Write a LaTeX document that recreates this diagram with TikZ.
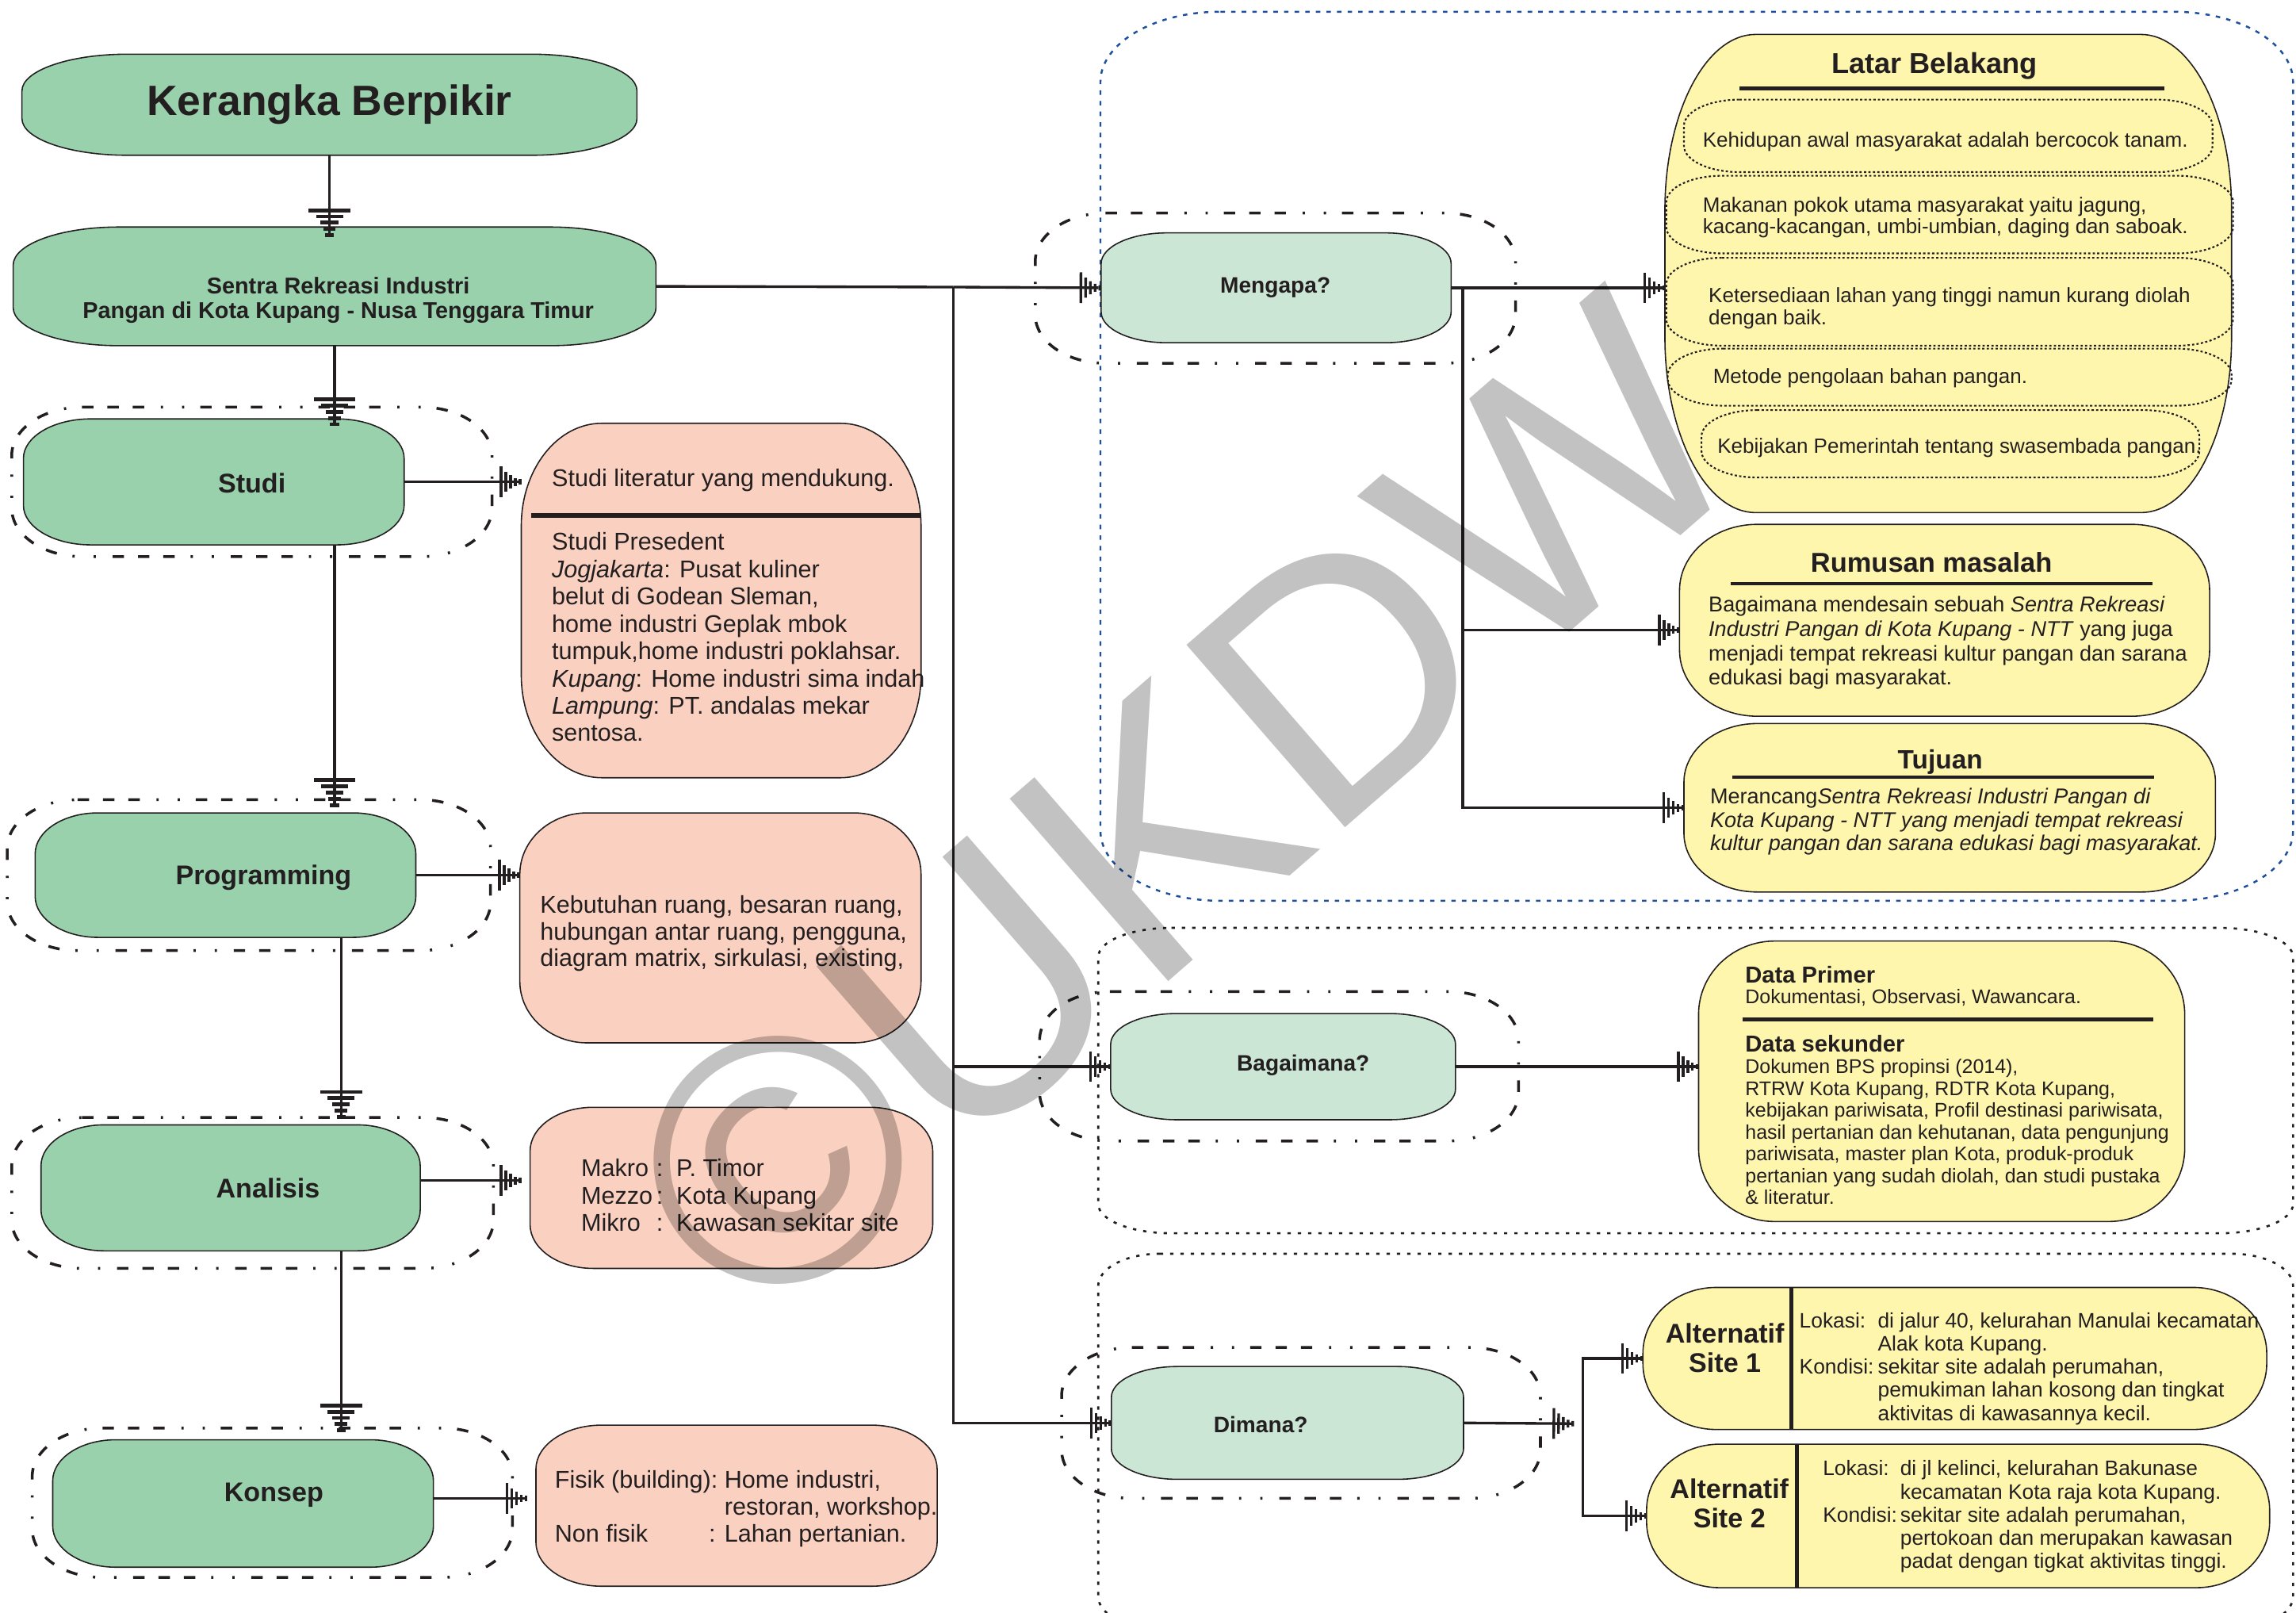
\documentclass[tikz,border=0pt]{standalone}
\usepackage{fontspec}
\setmainfont{Liberation Sans}
\usetikzlibrary{arrows.meta,calc,fit}

\definecolor{inkblack}{HTML}{231F20}
\definecolor{sage}{HTML}{99D1AC}
\definecolor{mint}{HTML}{CCE6D6}
\definecolor{peach}{HTML}{FAD1C0}
\definecolor{lemon}{HTML}{FFF6AD}
\definecolor{dotblue}{HTML}{1D4F9C}

\newcommand\pxu{0.018469cm}
\newcommand\fs[2]{\fontsize{#1}{#2}\selectfont}
% box with elliptic corners round a fitted node
\newcommand\capsule[4]{%
  \path[#4] ($(#1.north west)+(#2,0)$) -- ($(#1.north east)-(#2,0)$)
    arc[start angle=90,end angle=0,x radius=#2*\pxu,y radius=#3*\pxu]
    -- ($(#1.south east)+(0,#3)$)
    arc[start angle=0,end angle=-90,x radius=#2*\pxu,y radius=#3*\pxu]
    -- ($(#1.south west)+(#2,0)$)
    arc[start angle=270,end angle=180,x radius=#2*\pxu,y radius=#3*\pxu]
    -- ($(#1.north west)-(0,#3)$)
    arc[start angle=180,end angle=90,x radius=#2*\pxu,y radius=#3*\pxu]
    -- cycle;}

\tikzset{
  frame/.style={inner sep=0pt,outer sep=0pt},
  boxline/.style={draw=inkblack,line width=0.45pt},
  ddash/.style={draw=inkblack,line width=1pt,
    dash pattern=on 4.1pt off 5pt on 4.1pt off 5pt on 4.1pt off 6pt on 0.8pt off 6.8pt on 0.8pt off 5.7pt},
  fdots/.style={draw=inkblack,line width=0.75pt,dash pattern=on 1.2pt off 2.5pt},
  bdots/.style={draw=dotblue,line width=0.7pt,dash pattern=on 1.6pt off 2.2pt},
  idots/.style={draw=inkblack,line width=0.6pt,dash pattern=on 0.8pt off 0.8pt},
  uline/.style={line width=1.4pt},
  head/.style={font=\bfseries\fs{9.7}{10.5},inner sep=0pt},
  ask/.style={font=\bfseries\fs{8}{9},inner sep=0pt},
  txt/.style={align=left,inner sep=0pt,anchor=west},
  ptxt/.style={txt,font=\fs{8.7}{9.8}},
  ytxt/.style={txt,font=\fs{7.7}{8.7}},
  lbtxt/.style={txt,font=\fs{7.4}{7.9}},
  vgnd/.style={-{Rectangle[length=1.4pt,width=15pt,line width=0pt,sep=0.85pt]
    Rectangle[length=1.4pt,width=9.7pt,line width=0pt,sep=0.85pt]
    Rectangle[length=1.4pt,width=6.3pt,line width=0pt,sep=0.85pt]
    Rectangle[length=1.4pt,width=4.5pt,line width=0pt,sep=0.85pt]
    Rectangle[length=1.4pt,width=3.2pt,line width=0pt]}},
  hgnd/.style={-{Rectangle[length=0.95pt,width=11pt,line width=0pt,sep=0.75pt]
    Rectangle[length=0.95pt,width=7.2pt,line width=0pt,sep=0.75pt]
    Rectangle[length=0.95pt,width=4.7pt,line width=0pt,sep=0.75pt]
    Rectangle[length=0.95pt,width=2.8pt,line width=0pt,sep=0.75pt]
    Rectangle[length=0.95pt,width=1.9pt,line width=0pt]}},
}

\begin{document}
\begin{tikzpicture}[x=\pxu,y=\pxu,color=inkblack,line width=0.95pt]
\useasboundingbox (0,0) rectangle (1568,-1101);

% zones
\node[frame,fit={(751.5,-8)(1566,-615)}] (whyzone) {};
\node[frame,fit={(750,-633.5)(1566,-842)}] (howzone) {};
\node[frame,fit={(750,-856)(1566,-1112)}] (wherezone) {};
\node[frame,fit={(8,-278)(336,-380)}] (studi-c) {};
\node[frame,fit={(5,-546)(335,-649)}] (prog-c) {};
\node[frame,fit={(8,-763)(337,-866)}] (anal-c) {};
\node[frame,fit={(22,-975)(350,-1077)}] (konsep-c) {};
\node[frame,fit={(707,-145.5)(1035,-248)}] (mengapa-c) {};
\node[frame,fit={(710,-677)(1037,-779)}] (bagaimana-c) {};
\node[frame,fit={(725,-920)(1052,-1023)}] (dimana-c) {};

% boxes
\node[frame,fit={(15,-37)(435,-106)}] (kerangka) {};
\node[frame,fit={(9,-155)(448,-236)}] (sentra) {};
\node[frame,fit={(16,-286)(276,-372)}] (studi) {};
\node[frame,fit={(24,-555)(284,-640)}] (prog) {};
\node[frame,fit={(28,-768)(287,-854)}] (anal) {};
\node[frame,fit={(36,-983)(296,-1070)}] (konsep) {};
\node[frame,fit={(356,-289)(629,-531)}] (literatur) {};
\node[frame,fit={(355,-555)(629,-712)}] (kebutuhan) {};
\node[frame,fit={(362,-756)(637,-866)}] (skala) {};
\node[frame,fit={(366,-973)(640,-1083)}] (fisik) {};
\node[frame,fit={(752,-159)(991,-234)}] (mengapa) {};
\node[frame,fit={(758.5,-692)(994,-764.5)}] (bagaimana) {};
\node[frame,fit={(759,-933)(999.5,-1010)}] (dimana) {};
\node[frame,fit={(1137,-23.5)(1524,-350)}] (latar) {};
\node[frame,fit={(1150,-68)(1511,-117.5)}] (lb1) {};
\node[frame,fit={(1138,-120)(1525,-173)}] (lb2) {};
\node[frame,fit={(1138,-176)(1525,-236)}] (lb3) {};
\node[frame,fit={(1139,-238)(1524,-277)}] (lb4) {};
\node[frame,fit={(1162,-280)(1502,-326)}] (lb5) {};
\node[frame,fit={(1147,-358)(1509,-489)}] (rumusan) {};
\node[frame,fit={(1150,-494)(1513,-609)}] (tujuan) {};
\node[frame,fit={(1160,-642.5)(1492,-834)}] (data) {};
\node[frame,fit={(1122,-879)(1548,-976)}] (alt1) {};
\node[frame,fit={(1124.5,-986)(1550,-1084)}] (alt2) {};

\capsule{whyzone}{82}{48}{bdots}
\capsule{howzone}{50}{20}{fdots}
\capsule{wherezone}{42}{22}{fdots}
\foreach \cn in {studi-c,prog-c,anal-c,konsep-c,mengapa-c,bagaimana-c,dimana-c}
  {\capsule{\cn}{48}{33}{ddash}}
\foreach \bx/\rx/\ry in {kerangka/72/25,sentra/72/26,studi/46/27,prog/43/28,anal/43/28,konsep/43/28}
  {\capsule{\bx}{\rx}{\ry}{fill=sage,boxline}}
\foreach \bx/\rx/\ry in {literatur/55/70,kebutuhan/46/42,skala/43/30,fisik/45/30}
  {\capsule{\bx}{\rx}{\ry}{fill=peach,boxline}}
\foreach \bx in {mengapa,bagaimana,dimana}
  {\capsule{\bx}{45}{21}{fill=mint,boxline}}
\foreach \bx/\rx/\ry in {latar/62/120,rumusan/53/45,tujuan/50/40,data/52/50,alt1/50/45,alt2/50/45}
  {\capsule{\bx}{\rx}{\ry}{fill=lemon,boxline}}
\foreach \bx in {lb1,lb2,lb3,lb4,lb5}
  {\capsule{\bx}{38}{18}{idots}}

% rules inside boxes
\draw[line width=1.7pt] (363,-352) -- (629,-352);
\draw[uline] (1188,-60.6) -- (1478,-60.6);
\draw[uline] (1182,-398.5) -- (1470,-398.5);
\draw[uline] (1183,-530.6) -- (1471,-530.6);
\draw[uline] (1190,-696) -- (1470.5,-696);
\draw[uline] ($(alt1.north west)+(101.6,0)$) -- ($(alt1.south west)+(101.6,0)$);
\draw[uline] ($(alt2.north west)+(102.5,0)$) -- ($(alt2.south west)+(102.5,0)$);

% texts
\node[font=\bfseries\fs{15.2}{17},inner sep=0pt] (kerangka-t) at (kerangka) {Kerangka Berpikir};
\node[font=\bfseries\fs{8.2}{8.9},align=center,inner sep=0pt] (sentra-t) at (231,-205)
  {Sentra Rekreasi Industri\\Pangan di Kota Kupang - Nusa Tenggara Timur};
\node[head] (studi-t) at (172,-330) {Studi};
\node[head] (prog-t) at (180,-599) {Programming};
\node[head] (anal-t) at (183,-811) {Analisis};
\node[head] (konsep-t) at (187,-1021) {Konsep};
\node[ask] (mengapa-t) at (871,-196.5) {Mengapa?};
\node[ask] (bagaimana-t) at (890,-727.5) {Bagaimana?};
\node[ask] (dimana-t) at (861,-972.5) {Dimana?};

\node[ptxt] (literatur-a) at (376,-328) {Studi literatur yang mendukung.};
\node[ptxt] (literatur-b) at (376,-435) {Studi Presedent\\
  \textit{Jogjakarta}: Pusat kuliner\\
  belut di Godean Sleman,\\
  home industri Geplak mbok\\
  tumpuk,home industri poklahsar.\\
  \textit{Kupang}: Home industri sima indah\\
  \textit{Lampung}: PT. andalas mekar\\
  sentosa.};
\node[ptxt,font=\fs{8.7}{9.5}] (kebutuhan-t) at (368,-637.5) {Kebutuhan ruang, besaran ruang,\\
  hubungan antar ruang, pengguna,\\
  diagram matrix, sirkulasi, existing,};
\node[ptxt,font=\fs{8.7}{9.7}] (skala-t) at (396,-816) {\makebox[3.1em][l]{Makro}:\hspace{0.55em}P. Timor\\
  \makebox[3.1em][l]{Mezzo}:\hspace{0.55em}Kota Kupang\\
  \makebox[3.1em][l]{Mikro}:\hspace{0.55em}Kawasan sekitar site};
\node[ptxt,font=\fs{8.7}{9.7}] (fisik-t) at (378,-1030) {\makebox[7em][l]{Fisik (building):}Home industri,\\
  \hspace*{7em}restoran, workshop.\\
  \makebox[6.35em][l]{Non fisik}: Lahan pertanian.};

\node[font=\bfseries\fs{10.3}{11},inner sep=0pt] (latar-t) at (1321,-45) {Latar Belakang};
\node[lbtxt] (lb1-t) at (1162,-97) {Kehidupan awal masyarakat adalah bercocok tanam.};
\node[lbtxt] (lb2-t) at (1162,-148.5) {Makanan pokok utama masyarakat yaitu jagung,\\
  kacang-kacangan, umbi-umbian, daging dan saboak.};
\node[lbtxt] (lb3-t) at (1166,-210.5) {Ketersediaan lahan yang tinggi namun kurang diolah\\
  dengan baik.};
\node[lbtxt] (lb4-t) at (1169,-258) {Metode pengolaan bahan pangan.};
\node[lbtxt] (lb5-t) at (1172,-306) {Kebijakan Pemerintah tentang swasembada pangan.};

\node[font=\bfseries\fs{9.8}{11},inner sep=0pt] (rumusan-h) at (1319,-384) {Rumusan masalah};
\node[ytxt] (rumusan-t) at (1166,-439) {Bagaimana mendesain sebuah \textit{Sentra Rekreasi}\\
  \textit{Industri Pangan di Kota Kupang - NTT} yang juga\\
  menjadi tempat rekreasi kultur pangan dan sarana\\
  edukasi bagi masyarakat.};
\node[font=\bfseries\fs{9.5}{11},inner sep=0pt] (tujuan-h) at (1325,-520) {Tujuan};
\node[ytxt,font=\fs{7.7}{8.4}] (tujuan-t) at (1167,-561) {Merancang\textit{Sentra Rekreasi Industri Pangan di}\\
  \textit{Kota Kupang - NTT yang menjadi tempat rekreasi}\\
  \textit{kultur pangan dan sarana edukasi bagi masyarakat.}};

\node[txt,font=\bfseries\fs{8.3}{9}] (primer-h) at (1191,-665.5) {Data Primer};
\node[txt,font=\fs{7.1}{7.8}] (primer-t) at (1191,-681) {Dokumentasi, Observasi, Wawancara.};
\node[txt,font=\bfseries\fs{8.3}{9}] (sekunder-h) at (1191,-712.5) {Data sekunder};
\node[txt,font=\fs{7.1}{7.8}] (sekunder-t) at (1191,-772.75) {Dokumen BPS propinsi (2014),\\
  RTRW Kota Kupang, RDTR Kota Kupang,\\
  kebijakan pariwisata, Profil destinasi pariwisata,\\
  hasil pertanian dan kehutanan, data pengunjung\\
  pariwisata, master plan Kota, produk-produk\\
  pertanian yang sudah diolah, dan studi pustaka\\
  \& literatur.};

\node[font=\bfseries\fs{9.7}{10.5},align=center,inner sep=0pt] (alt1-h) at (1178,-920.5) {Alternatif\\Site 1};
\node[txt,font=\fs{7.5}{8.3}] (alt1-t) at (1228,-934.5) {\makebox[3.75em][l]{Lokasi:}di jalur 40, kelurahan Manulai kecamatan\\
  \hspace*{3.75em}Alak kota Kupang.\\
  \makebox[3.75em][l]{Kondisi:}sekitar site adalah perumahan,\\
  \hspace*{3.75em}pemukiman lahan kosong dan tingkat\\
  \hspace*{3.75em}aktivitas di kawasannya kecil.};
\node[font=\bfseries\fs{9.7}{10.5},align=center,inner sep=0pt] (alt2-h) at (1181,-1026.5) {Alternatif\\Site 2};
\node[txt,font=\fs{7.5}{8.3}] (alt2-t) at (1244,-1035.5) {\makebox[3.7em][l]{Lokasi:}di jl kelinci, kelurahan Bakunase\\
  \hspace*{3.7em}kecamatan Kota raja kota Kupang.\\
  \makebox[3.7em][l]{Kondisi:}sekitar site adalah perumahan,\\
  \hspace*{3.7em}pertokoan dan merupakan kawasan\\
  \hspace*{3.7em}padat dengan tigkat aktivitas tinggi.};

% left spine
\draw[vgnd] (kerangka.south) -- ($(kerangka.south |- sentra.north)+(0,-7)$);
\draw[vgnd] (sentra.south) -- ($(sentra.south |- studi.north)+(0,-5)$);
\draw[vgnd] (sentra.south |- studi.south) -- ($(sentra.south |- prog.north)+(0,4)$);
\draw[vgnd] ($(prog.south)+(79,0)$) -- ($(prog.south |- anal.north)+(79,4)$);
\draw[vgnd] ($(anal.south)+(75.5,0)$) -- ($(anal.south |- konsep.north)+(75.5,5)$);

\draw[hgnd] (studi.east) -- (studi.east -| literatur.west);
\draw[hgnd] (prog.east) -- (prog.east -| kebutuhan.west);
\draw[hgnd] ($(anal.east)+(0,5)$) -- ($(anal.east -| skala.west)+(-6,5)$);
\draw[hgnd] ($(konsep.east)+(0,3.5)$) -- ($(konsep.east -| fisik.west)+(-6,3.5)$);

% right branches
\coordinate (jn) at (651,-196);
\draw (sentra.east) -- (jn);
\draw[hgnd] (jn) -- (mengapa.west);
\draw[hgnd] (jn) |- (bagaimana.west);
\draw[hgnd] (jn) |- (dimana.west);

\coordinate (mfork) at (999,-196.5);
\draw[hgnd] (mengapa.east) -- (mengapa.east -| latar.west);
\draw[hgnd] (mfork) |- ($(rumusan.west)+(0,-6.5)$);
\draw[hgnd] (mfork) |- (tujuan.west);

\draw[hgnd] (bagaimana.east) -- (bagaimana.east -| data.west);

\coordinate (dfork) at (1081,-972);
\draw[hgnd] (dimana.east) -- ($(dfork)+(-6,0)$);
\draw[hgnd] (dfork) |- (alt1.west);
\draw[hgnd] (dfork) |- (alt2.west);

% watermark
\node[rotate=41,text=black,text opacity=0.24,inner sep=0pt,font=\fs{126}{126}] (mark) at (808,-552) {©UKDW};
\end{tikzpicture}
\end{document}
